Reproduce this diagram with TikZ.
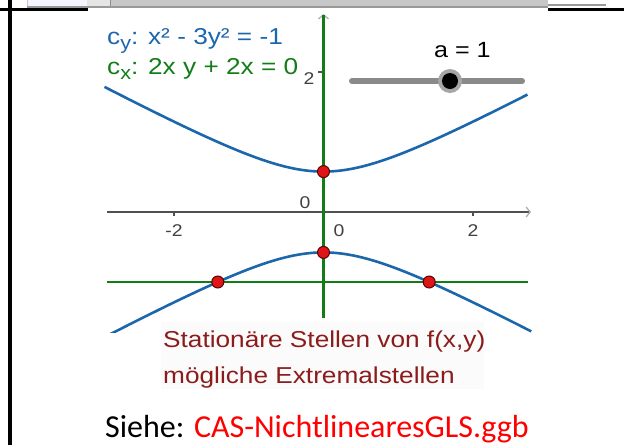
\documentclass[tikz,border=0pt]{standalone}
\usepackage{fontspec}
\setmainfont{Liberation Sans}
\newfontfamily\ggbfont[FakeStretch=1.14]{Liberation Sans}
\newfontfamily\calibrifont{Carlito}
\usetikzlibrary{arrows.meta}
\definecolor{ggbblue}{RGB}{28,102,172}
\definecolor{ggbgreen}{RGB}{18,125,22}
\definecolor{ggbdarkred}{RGB}{140,28,28}
\definecolor{ptred}{RGB}{222,22,22}
\definecolor{axisgray}{RGB}{80,80,80}
\definecolor{slidergray}{RGB}{138,138,138}

\tikzset{
  curve/.style={ggbblue, line width=2.6pt},
  zeroline/.style={ggbgreen, line width=2.6pt},
  axisline/.style={axisgray, line width=1.4pt},
  stpoint/.style={circle, fill=ptred, draw=black!65!red, line width=1pt, inner sep=0pt, minimum size=12pt},
  ticklabel/.style={text=black!75, font=\ggbfont\fontsize{17}{18}\selectfont, inner sep=0pt}
}

\begin{document}
\begin{tikzpicture}[x=1pt,y=-1pt]
    \useasboundingbox (0,0) rectangle (624,445);
    % table frame and edge of the screenshot above
    \fill[black!22] (27,0) rectangle (548,8);
    \fill[blue!4] (28,0) rectangle (87,5.5);
    \fill[black!10] (87,0) rectangle (110,5.5);
    \draw[black!45] (110,0) -- (110,5.5);
    \draw[black!40, line width=2pt] (27,7) -- (548,7);
    \draw[black!40, line width=1.5pt] (548,5) -- (606,5);
    \draw[line width=2.5pt] (0,9.5) -- (88,9.5);
    \draw[line width=2.5pt] (548,9.5) -- (624,9.5);
    \draw[line width=4pt] (10,0) -- (10,445);

    % axes
    \coordinate (xl) at (107,212);
    \coordinate (xr) at (531,212);
    \coordinate (yb) at (323.5,318);
    \coordinate (yt) at (323.5,14);
    \draw[axisline, -{Straight Barb[length=4pt,width=10pt,color=black!30]}] (xl) -- (xr);
    \draw[axisline, -{Straight Barb[length=4pt,width=10pt,color=black!30]}] (yb) -- (yt);
    \draw[axisline] (174,212) -- (174,216);
    \draw[axisline] (473,212) -- (473,216);
    \draw[axisline] (318,72) -- (323.5,72);
    \node[ticklabel] (tm2) at (174,231) {-2};
    \node[ticklabel] (t0) at (339,231) {0};
    \node[ticklabel] (t2) at (473,231) {2};
    \node[ticklabel] (o0) at (305,203) {0};
    \node[ticklabel] (y2) at (309,79) {2};

    % c_x: x = 0 and y = -1
    \coordinate (gl) at (107,282);
    \coordinate (gr) at (528,282);
    \draw[zeroline] (yb) -- (323.5,15);
    \draw[zeroline] (gl) -- (gr);

    % c_y: hyperbola x^2 - 3y^2 = -1
    \draw[curve] plot[domain=-2.93:2.73, samples=90, smooth]
        ({323.5+74.75*\x},{212-70*sqrt((1+\x*\x)/3)});
    \begin{scope}
      \clip (103,12) rectangle (532,332);
      \draw[curve] plot[domain=-2.98:2.78, samples=90, smooth]
          ({323.5+74.75*\x},{212+70*sqrt((1+\x*\x)/3)});
    \end{scope}

    % stationary points
    \node[stpoint] (s1) at (323.5,171.6) {};
    \node[stpoint] (s2) at (323.5,252.4) {};
    \node[stpoint] (s3) at (217.8,282) {};
    \node[stpoint] (s4) at (429.2,282) {};

    % equations
    \node[anchor=base west, inner sep=0pt, text=ggbblue, font=\ggbfont\fontsize{23}{24}\selectfont] (cy) at (107,44)
        {c\raisebox{-5pt}{\fontsize{19}{19}\selectfont y}: x² - 3y² = -1};
    \node[anchor=base west, inner sep=0pt, text=ggbgreen, font=\ggbfont\fontsize{23}{24}\selectfont] (cx) at (107,74)
        {c\raisebox{-5pt}{\fontsize{19}{19}\selectfont x}: 2x y + 2x = 0};

    % slider
    \coordinate (sl) at (352,81);
    \coordinate (sr) at (522,81);
    \draw[slidergray, line width=6pt, line cap=round] (sl) -- (sr);
    \node[circle, fill=black!35, inner sep=0pt, minimum size=24pt] (knobhalo) at (450,81) {};
    \node[circle, fill=black, inner sep=0pt, minimum size=16pt] (knob) at (knobhalo) {};
    \node[anchor=base west, inner sep=0pt, font=\ggbfont\fontsize{22}{24}\selectfont] (a) at (434,57) {a = 1};

    % caption in the graphics view
    \fill[black!1.5] (161,322) rectangle (484,389);
    \node[anchor=base west, inner sep=0pt, text=ggbdarkred, font=\ggbfont\fontsize{23}{24}\selectfont] (st1) at (163,347)
        {Stationäre Stellen von f(x,y)};
    \node[anchor=base west, inner sep=0pt, text=ggbdarkred, font=\ggbfont\fontsize{23}{24}\selectfont] (st2) at (163,383)
        {mögliche Extremalstellen};

    % reference to the file
    \node[anchor=base west, inner sep=0pt, font=\calibrifont\fontsize{32}{34}\selectfont] (siehe) at (105,437)
        {Siehe: \textcolor{red}{CAS-NichtlinearesGLS.ggb}};
\end{tikzpicture}
\end{document}
